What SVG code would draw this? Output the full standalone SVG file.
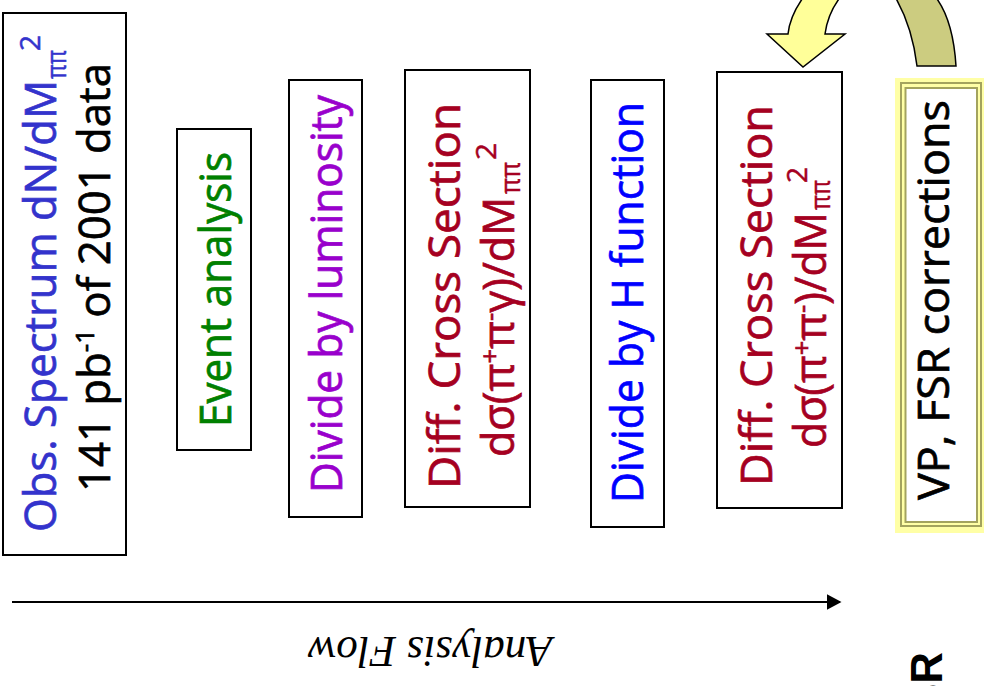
<svg xmlns="http://www.w3.org/2000/svg" width="984" height="686" viewBox="0 0 984 686">
  <style>
    .box { fill: #ffffff; stroke: #000000; stroke-width: 2; }
    .t { font-family: "Open Sans", "Noto Sans", "DejaVu Sans", sans-serif; font-size: 44px; stroke-width: 0.7px; }
    .s { font-size: 26px; }
    .sub { font-family: "Open Sans", "Noto Sans", "DejaVu Sans", sans-serif; font-size: 28px; stroke-width: 0.5px; }
    .blue1 { fill: #3333CC; stroke: #3333CC; }
    .black { fill: #000000; stroke: #000000; }
    .green { fill: #008000; stroke: #008000; }
    .purple { fill: #9900CC; stroke: #9900CC; }
    .red { fill: #A50021; stroke: #A50021; }
    .blue { fill: #0000FF; stroke: #0000FF; }
    .olive { fill: none; stroke: #A3A35E; stroke-width: 2; }
  </style>
  <defs>
    <marker id="head" viewBox="0 0 10 10" refX="9" refY="5" markerWidth="15" markerHeight="16" markerUnits="userSpaceOnUse" orient="auto" preserveAspectRatio="none">
      <path d="M0,0 L10,5 L0,10 Z" fill="#000"/>
    </marker>
  </defs>

  <rect width="984" height="686" fill="#ffffff"/>

  <!-- observed spectrum -->
  <g id="obs">
    <rect class="box" x="3" y="13" width="123" height="542"/>
    <text class="t blue1" transform="rotate(-90)" x="-532" y="56" textLength="452" lengthAdjust="spacingAndGlyphs">Obs. Spectrum dN/dM</text>
    <text class="sub blue1" transform="rotate(-90)" x="-79" y="66" textLength="29" lengthAdjust="spacingAndGlyphs">ππ</text>
    <text class="sub blue1" transform="rotate(-90)" x="-51" y="40" textLength="16" lengthAdjust="spacingAndGlyphs">2</text>
    <text class="t black" transform="rotate(-90)" x="-492" y="110" textLength="429" lengthAdjust="spacingAndGlyphs">141 pb<tspan class="s" dy="-16">-1</tspan><tspan dy="16"> of 2001 data</tspan></text>
  </g>

  <!-- event analysis -->
  <g id="event">
    <rect class="box" x="177" y="129" width="74" height="321"/>
    <text class="t green" transform="rotate(-90)" x="-427" y="231" textLength="275" lengthAdjust="spacingAndGlyphs">Event analysis</text>
  </g>

  <!-- luminosity -->
  <g id="lumi">
    <rect class="box" x="289" y="80" width="73" height="437"/>
    <text class="t purple" transform="rotate(-90)" x="-493" y="342" textLength="398" lengthAdjust="spacingAndGlyphs">Divide by luminosity</text>
  </g>

  <!-- radiative cross section -->
  <g id="xsec-gamma">
    <rect class="box" x="405" y="70" width="125" height="437"/>
    <text class="t red" transform="rotate(-90)" x="-489" y="460" textLength="386" lengthAdjust="spacingAndGlyphs">Diff. Cross Section</text>
    <text class="t red" transform="rotate(-90)" x="-457" y="514" textLength="260" lengthAdjust="spacingAndGlyphs">dσ(π<tspan class="s" dy="-15">+</tspan><tspan dy="15">π</tspan><tspan class="s" dy="-15">-</tspan><tspan dy="15">γ)/dM</tspan></text>
    <text class="sub red" transform="rotate(-90)" x="-194" y="520" textLength="32" lengthAdjust="spacingAndGlyphs">ππ</text>
    <text class="sub red" transform="rotate(-90)" x="-160" y="496" textLength="17" lengthAdjust="spacingAndGlyphs">2</text>
  </g>

  <!-- H function -->
  <g id="hfunc">
    <rect class="box" x="591" y="80" width="73" height="447"/>
    <text class="t blue" transform="rotate(-90)" x="-503" y="643" textLength="401" lengthAdjust="spacingAndGlyphs">Divide by H function</text>
  </g>

  <!-- cross section without photon -->
  <g id="xsec">
    <rect class="box" x="717" y="72" width="125" height="436"/>
    <text class="t red" transform="rotate(-90)" x="-486" y="772" textLength="381" lengthAdjust="spacingAndGlyphs">Diff. Cross Section</text>
    <text class="t red" transform="rotate(-90)" x="-448" y="826" textLength="236" lengthAdjust="spacingAndGlyphs">dσ(π<tspan class="s" dy="-15">+</tspan><tspan dy="15">π</tspan><tspan class="s" dy="-15">-</tspan><tspan dy="15">)/dM</tspan></text>
    <text class="sub red" transform="rotate(-90)" x="-210" y="830" textLength="30" lengthAdjust="spacingAndGlyphs">ππ</text>
    <text class="sub red" transform="rotate(-90)" x="-183" y="807" textLength="16" lengthAdjust="spacingAndGlyphs">2</text>
  </g>

  <!-- VP and FSR corrections -->
  <g id="corr">
    <rect x="895" y="78" width="100" height="455" fill="#FFFFA6"/>
    <rect class="olive" x="901" y="83" width="80" height="443"/>
    <rect x="905.5" y="88" width="71.5" height="434" fill="#ffffff" stroke="#A3A35E" stroke-width="2"/>
    <text class="t black" transform="rotate(-90)" x="-500" y="949" textLength="400" lengthAdjust="spacingAndGlyphs">VP, FSR corrections</text>
  </g>

  <!-- connectors -->
  <g id="connectors">
    <path d="M894,-5 Q912,25 917,66 L956,66 Q953,18 934,-5 Z" fill="#CCCC80" stroke="#000" stroke-width="1.5"/>
    <path d="M805,-5 Q790,15 788,34 L767,34 L803,67 L845,34 L825,34 Q828,12 842,-5 Z" fill="#FFFF99" stroke="#000" stroke-width="1.5" stroke-linejoin="miter"/>
    <line x1="12" y1="602" x2="840" y2="602" stroke="#000" stroke-width="2" marker-end="url(#head)"/>
  </g>

  <!-- axis caption -->
  <text transform="translate(430,637) rotate(180)" x="0" y="0" text-anchor="middle" font-family="Liberation Serif, serif" font-style="italic" font-size="44" textLength="245" lengthAdjust="spacingAndGlyphs">Analysis Flow</text>

  <text transform="rotate(-90)" x="-713" y="942" font-family="Liberation Sans, Arial, sans-serif" font-weight="bold" font-size="44">SR</text>
</svg>
